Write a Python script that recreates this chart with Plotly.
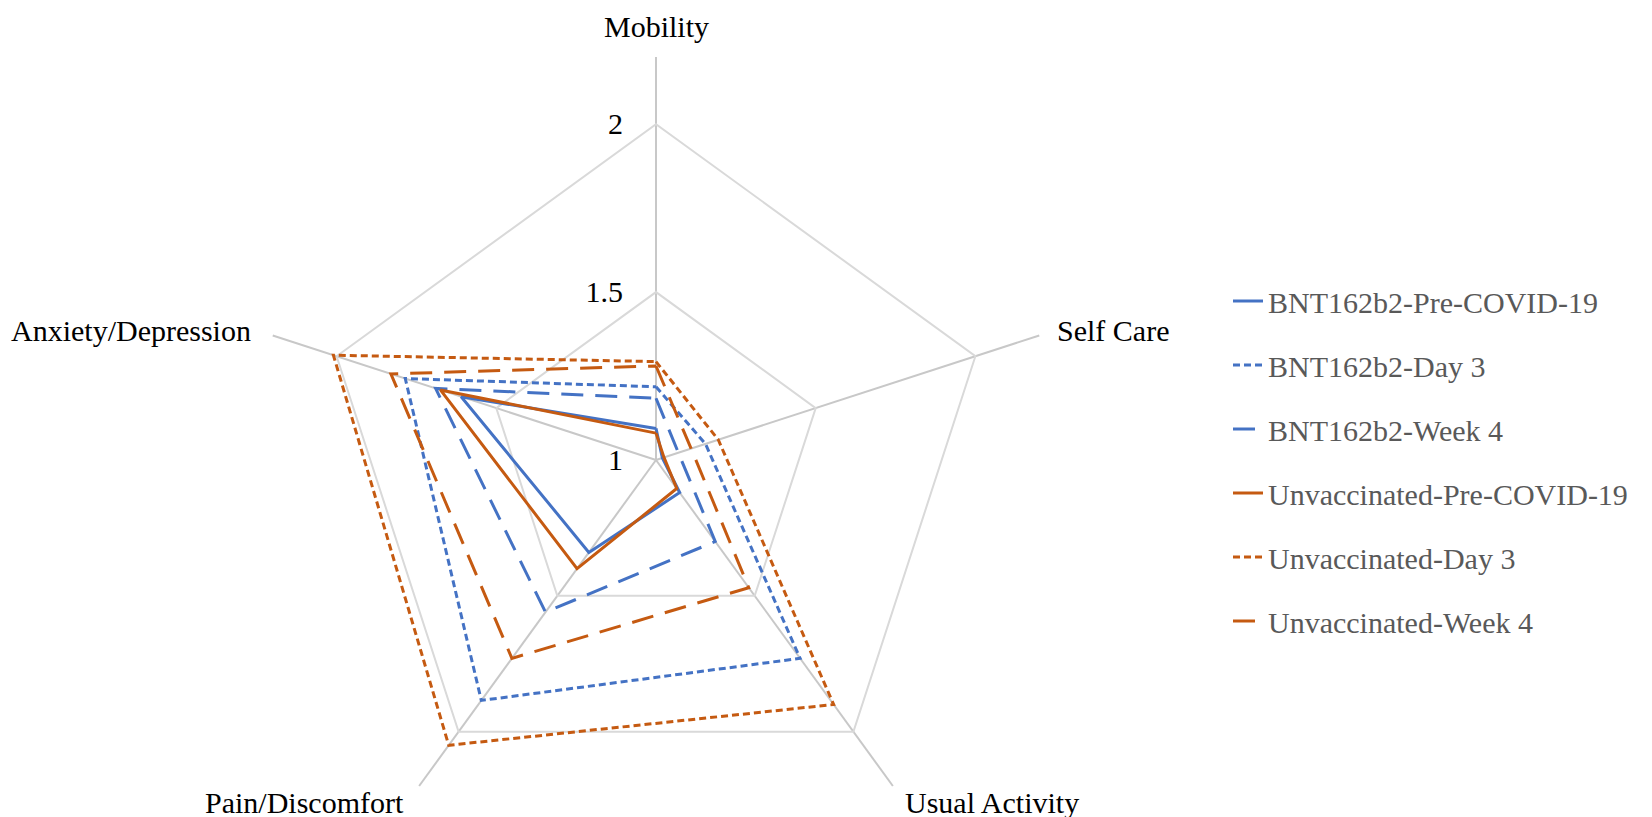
import math
import plotly.graph_objects as go

categories = ["Mobility", "Self Care", "Usual Activity", "Pain/Discomfort", "Anxiety/Depression"]

bnt_pre = [1.094, 1.02, 1.12, 1.34, 1.61]
bnt_day3 = [1.218, 1.155, 1.73, 1.885, 1.785]
bnt_week4 = [1.184, 1.07, 1.30, 1.56, 1.69]
unv_pre = [1.08, 1.025, 1.105, 1.40, 1.675]
unv_day3 = [1.293, 1.195, 1.90, 2.05, 2.01]
unv_week4 = [1.28, 1.11, 1.47, 1.73, 1.83]

series_names = ["BNT162b2-Pre-COVID-19", "BNT162b2-Day 3", "BNT162b2-Week 4",
                "Unvaccinated-Pre-COVID-19", "Unvaccinated-Day 3", "Unvaccinated-Week 4"]
series_values = [bnt_pre, bnt_day3, bnt_week4, unv_pre, unv_day3, unv_week4]

radial_range = [1, 2.2]
radial_ticks = [1, 1.5, 2]
radial_ticktext = ["1", "1.5", "2"]

BLUE = "#4472C4"
ORANGE = "#C55A11"
colors = [BLUE, BLUE, BLUE, ORANGE, ORANGE, ORANGE]
dashes = ["solid", "7px,4px", "22px,12px", "solid", "7px,4px", "22px,12px"]

FONT = "Liberation Serif, Times New Roman, serif"
W, H = 1652, 880

fig = go.Figure()
for i, (name, vals) in enumerate(zip(series_names, series_values)):
    fig.add_trace(go.Scatterpolar(
        r=vals + vals[:1],
        theta=categories + categories[:1],
        mode="lines",
        name=name,
        legendgroup=name,
        line=dict(color=colors[i], width=3, dash=dashes[i]),
    ))

# polar geometry (figure pixels)
cx, cy, rad = 648, 452, 403

# category labels placed just beyond the end of each spoke
label_style = [  # (dx, dy, xanchor)
    (0, -31, "center"),
    (16, -5, "left"),
    (10, 16, "left"),
    (-13, 16, "right"),
    (-20, -5, "right"),
]
annotations = []
n = len(categories)
for i, cat in enumerate(categories):
    th = math.radians(360.0 * i / n)
    ex = cx + rad * math.sin(th)
    ey = cy - rad * math.cos(th)
    dx, dy, xa = label_style[i]
    annotations.append(dict(
        text=cat, xref="paper", yref="paper",
        x=(ex + dx) / W, y=1 - (ey + dy) / H,
        xanchor=xa, yanchor="middle", showarrow=False,
        font=dict(family=FONT, size=30, color="black"),
    ))

fig.update_layout(
    width=W, height=H,
    margin=dict(l=0, r=0, t=0, b=0),
    paper_bgcolor="white",
    plot_bgcolor="white",
    font=dict(family=FONT, size=30, color="black"),
    annotations=annotations,
    polar=dict(
        domain=dict(x=[(cx - rad) / W, (cx + rad) / W],
                    y=[1 - (cy + rad) / H, 1 - (cy - rad) / H]),
        gridshape="linear",
        bgcolor="white",
        radialaxis=dict(
            range=radial_range,
            tickvals=radial_ticks,
            ticktext=radial_ticktext,
            angle=90,
            tickangle=90,
            side="counterclockwise",
            showline=False,
            gridcolor="#d9d9d9",
            gridwidth=2,
            ticks="outside",
            ticklen=22,
            tickcolor="rgba(0,0,0,0)",
            tickfont=dict(family=FONT, size=30, color="black"),
        ),
        angularaxis=dict(
            type="category",
            categoryarray=categories,
            rotation=90,
            direction="clockwise",
            showline=False,
            showticklabels=False,
            ticks="",
            gridcolor="#c8c8c8",
            gridwidth=2,
        ),
    ),
    showlegend=True,
    legend=dict(
        x=1220 / W, y=1 - 267 / H, xanchor="left", yanchor="top",
        font=dict(family=FONT, size=30, color="#595959"),
        traceorder="grouped",
        tracegroupgap=22,
        bgcolor="rgba(0,0,0,0)",
    ),
)

fig.write_html("out.html")
